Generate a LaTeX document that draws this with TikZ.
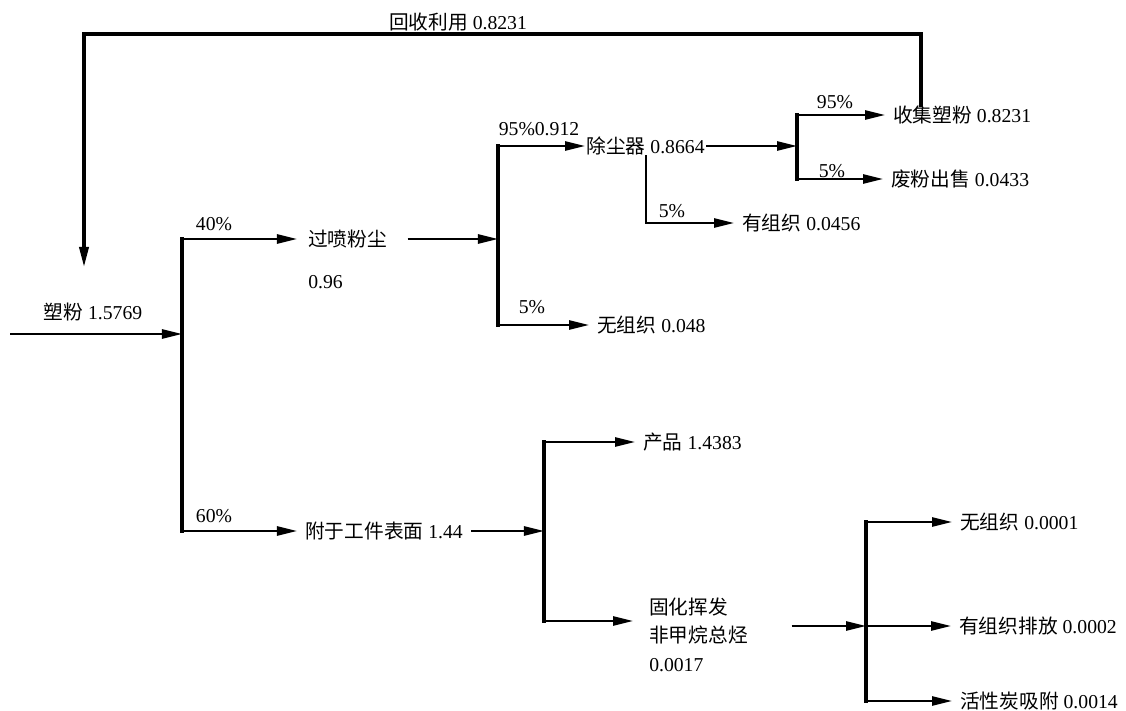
\documentclass[tikz,border=0pt]{standalone}
\usepackage{fontspec}
\setmainfont{Liberation Serif}
\newfontfamily\zhfont{Noto Sans CJK SC}
\newcommand{\zh}[1]{{\zhfont #1}}
\usepackage{tikz}
\usetikzlibrary{arrows.meta, positioning}

\begin{document}
\begin{tikzpicture}[x=0.025cm, y=-0.025cm,
    every node/.style={font=\fontsize{14}{20}\selectfont},
    txt/.style={anchor=west, inner xsep=0.2cm, inner ysep=0pt},
    pct/.style={inner sep=0pt},
    flowtip/.tip={Triangle[length=5mm, width=2.3mm]},
    flow/.style={line width=1.4pt, -flowtip},
    trunk/.style={line width=2.2pt, line cap=rect}]
  \useasboundingbox (0,0) rectangle (1126,711);

  \coordinate (in) at (10,334);
  \coordinate (j1) at (182,334);
  \coordinate (j2) at (498,239);
  \coordinate (j3) at (797,146);
  \coordinate (j4) at (544,531);
  \coordinate (j5) at (866,626);
  \coordinate (ret) at (921,34);
  \coordinate (retend) at (84,267);

  \node[pct] (feed) at (93,312) {\zh{塑粉} 1.5769};
  \node[pct] (reclbl) at (458,22) {\zh{回收利用} 0.8231};
  \node[txt, inner xsep=0.275cm, text width=2.2cm] (dust) at (297,239) {\zh{过喷粉尘}};
  \node[txt, inner xsep=0.275cm] (dustval) at (297,282) {0.96};
  \node[txt] (attach) at (297,531) {\zh{附于工件表面} 1.44};
  \node[pct] (p40) at (214,224) {40\%};
  \node[pct] (p60) at (214,516) {60\%};
  \node[txt, inner xsep=0.03cm] (clean) at (585,146) {\zh{除尘器} 0.8664};
  \node[pct] (p95a) at (539,129) {95\%0.912};
  \node[txt] (loss1) at (589,325) {\zh{无组织} 0.048};
  \node[pct] (p5a) at (532,307) {5\%};
  \node[txt] (org1) at (734,223) {\zh{有组织} 0.0456};
  \node[pct] (p5b) at (672,211) {5\%};
  \node[txt] (collect) at (885,115) {\zh{收集塑粉} 0.8231};
  \node[txt] (sold) at (883,179) {\zh{废粉出售} 0.0433};
  \node[pct] (p95b) at (835,102) {95\%};
  \node[pct] (p5c) at (832,171) {5\%};
  \node[txt] (prod) at (635,442) {\zh{产品} 1.4383};
  \node[txt, inner xsep=0.4cm, text width=3.15cm, align=left] (cure) at (633,621) {\zh{固化挥发}\\\zh{非甲烷总烃}};
  \node[txt, inner xsep=0.4cm] (cureval) at (633,665) {0.0017};
  \node[txt] (vent1) at (952,522) {\zh{无组织} 0.0001};
  \node[txt] (vent2) at (951,626) {\zh{有组织排放} 0.0002};
  \node[txt] (ads) at (952,701) {\zh{活性炭吸附} 0.0014};

  \draw[flow] (in) -- (j1);
  \draw[trunk] (j1 |- dust.west) -- (j1 |- attach.west);
  \draw[flow] (j1 |- dust.west) -- (dust.west);
  \draw[flow] (j1 |- attach.west) -- (attach.west);
  \draw[flow] (dust.east) -- (dust.east -| j2);
  \draw[trunk] (j2 |- clean.west) -- (j2 |- loss1.west);
  \draw[flow] (j2 |- clean.west) -- (clean.west);
  \draw[flow] (j2 |- loss1.west) -- (loss1.west);
  \draw[flow] (clean.south) |- (org1.west);
  \draw[flow] (clean.east) -- (clean.east -| j3);
  \draw[trunk] (j3 |- collect.west) -- (j3 |- sold.west);
  \draw[flow] (j3 |- collect.west) -- (collect.west);
  \draw[flow] (j3 |- sold.west) -- (sold.west);
  \draw[trunk, -flowtip] (ret |- collect.north) -- (ret) -| (retend);
  \draw[flow] (attach.east) -- (attach.east -| j4);
  \draw[trunk] (j4 |- prod.west) -- (j4 |- cure.west);
  \draw[flow] (j4 |- prod.west) -- (prod.west);
  \draw[flow] (j4 |- cure.west) -- (cure.west);
  \draw[flow] (cure.east |- j5) -- (j5);
  \draw[trunk] (j5 |- vent1.west) -- (j5 |- ads.west);
  \draw[flow] (j5 |- vent1.west) -- (vent1.west);
  \draw[flow] (j5) -- (vent2.west);
  \draw[flow] (j5 |- ads.west) -- (ads.west);
\end{tikzpicture}
\end{document}
